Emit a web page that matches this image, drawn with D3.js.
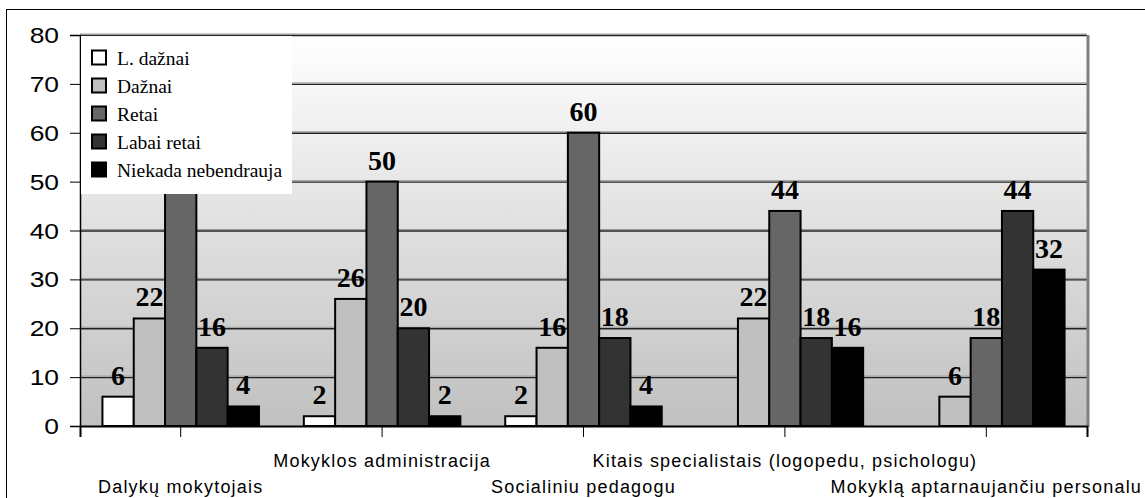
<!DOCTYPE html>
<html>
<head>
<meta charset="utf-8">
<script src="https://cdn.jsdelivr.net/npm/d3@7"></script>
<style>
  html, body { margin: 0; padding: 0; background: #ffffff; }
  svg { display: block; }
</style>
</head>
<body>
<svg id="chart" width="1145" height="498"></svg>
<script>
const categories = [
  "Dalykų mokytojais",
  "Mokyklos administracija",
  "Socialiniu pedagogu",
  "Kitais specialistais (logopedu, psichologu)",
  "Mokyklą aptarnaujančiu personalu"
];
const seriesNames = ["L. dažnai", "Dažnai", "Retai", "Labai retai", "Niekada nebendrauja"];
const seriesColors = ["#ffffff", "#c0c0c0", "#666666", "#333333", "#000000"];
const lDaznai   = [6, 2, 2, 0, 0];
const daznai    = [22, 26, 16, 22, 6];
const retai     = [52, 50, 60, 44, 18];
const labaiRetai = [16, 20, 18, 18, 44];
const niekada   = [4, 2, 4, 16, 32];
const seriesValues = [lDaznai, daznai, retai, labaiRetai, niekada];
const yTicks = [0, 10, 20, 30, 40, 50, 60, 70, 80];

const svg = d3.select("#chart");
const L = 80, R = 1087, T = 35, B = 426;
const legendBox = {x: L + 1, y: T + 1, w: 211, h: 158};

// outer frame
svg.append("rect").attr("x", 6.5).attr("y", 9.5).attr("width", 1200).attr("height", 600)
  .attr("fill", "none").attr("stroke", "#000").attr("stroke-width", 1);

const defs = svg.append("defs");
const grad = defs.append("linearGradient").attr("id", "bg").attr("x1", 0).attr("y1", 0).attr("x2", 0).attr("y2", 1);
grad.append("stop").attr("offset", "0%").attr("stop-color", "#ffffff");
grad.append("stop").attr("offset", "100%").attr("stop-color", "#c0c0c0");

const y = d3.scaleLinear().domain([0, 80]).range([B, T]);
const x0 = d3.scaleBand().domain(categories).range([L, R]).padding(0);
const x1 = d3.scaleBand().domain(seriesNames).range([0, x0.bandwidth()]).paddingInner(0).paddingOuter(0.717);

svg.append("rect").attr("x", L).attr("y", T).attr("width", R - L).attr("height", B - T).attr("fill", "url(#bg)");

// gridlines
const grid = svg.append("g");
yTicks.filter(t => t > 0).forEach(t => {
  grid.append("line").attr("x1", L).attr("x2", R).attr("y1", y(t) - 1).attr("y2", y(t) - 1)
    .attr("stroke", "#9a9a9a").attr("stroke-width", 1);
  grid.append("line").attr("x1", L).attr("x2", R).attr("y1", y(t) + 0.5).attr("y2", y(t) + 0.5)
    .attr("stroke", "#222").attr("stroke-width", 1.3);
});
// right shadow edge
svg.append("line").attr("x1", R + 1).attr("x2", R + 1).attr("y1", T).attr("y2", B + 1)
  .attr("stroke", "#808080").attr("stroke-width", 3);

// bars
const rows = [];
categories.forEach((c, ci) => seriesNames.forEach((s, si) => rows.push({c, s, si, v: seriesValues[si][ci]})));
svg.append("g").selectAll("rect").data(rows.filter(d => d.v > 0)).join("rect")
  .attr("x", d => x0(d.c) + x1(d.s))
  .attr("y", d => y(d.v))
  .attr("width", x1.bandwidth())
  .attr("height", d => y(0) - y(d.v))
  .attr("fill", d => seriesColors[d.si])
  .attr("stroke", "#000").attr("stroke-width", 2);

// value labels (the one hidden behind the legend in the reference is not drawn)
const lx = d => x0(d.c) + x1(d.s) + x1.bandwidth() / 2;
const ly = d => y(d.v) - 12;
const visible = d => d.v > 0 && !(lx(d) < legendBox.x + legendBox.w && ly(d) < legendBox.y + legendBox.h + 20);
svg.append("g").selectAll("text").data(rows.filter(visible)).join("text")
  .attr("x", lx)
  .attr("y", ly)
  .attr("text-anchor", "middle")
  .attr("font-family", "'Liberation Serif', 'Times New Roman', serif")
  .attr("font-weight", "bold").attr("font-size", 28)
  .attr("fill", "#000")
  .text(d => d.v);

// y axis
const yAxis = svg.append("g").attr("transform", `translate(${L},0)`)
  .call(d3.axisLeft(y).tickValues(yTicks).tickSize(10).tickFormat(""));
yAxis.select(".domain").attr("stroke", "#000").attr("stroke-width", 1.5);
yAxis.selectAll(".tick line").attr("stroke", "#000").attr("stroke-width", 1);
svg.append("g").selectAll("text").data(yTicks).join("text")
  .attr("transform", d => `translate(59,${y(d) + 8}) scale(1.2,1)`)
  .attr("text-anchor", "end")
  .attr("font-family", "'Liberation Sans', Arial, sans-serif")
  .attr("font-size", 22).attr("fill", "#000")
  .text(d => d);

// x axis
const xAxis = svg.append("g").attr("transform", `translate(0,${B})`)
  .call(d3.axisBottom(x0).tickSize(11).tickFormat(""));
xAxis.select(".domain").attr("stroke", "#000").attr("stroke-width", 2);
xAxis.selectAll(".tick line").attr("stroke", "#000").attr("stroke-width", 1);
svg.append("g").selectAll("text").data(categories).join("text")
  .attr("x", d => x0(d) + x0.bandwidth() / 2)
  .attr("y", (d, i) => i % 2 === 0 ? 493 : 467)
  .attr("text-anchor", "middle")
  .attr("font-family", "'Liberation Sans', Arial, sans-serif")
  .attr("font-size", 18).attr("letter-spacing", 1.2)
  .attr("fill", "#000")
  .text(d => d);

// legend
const lg = svg.append("g");
lg.append("rect").attr("x", legendBox.x).attr("y", legendBox.y).attr("width", legendBox.w).attr("height", legendBox.h).attr("fill", "#fff");
seriesNames.forEach((s, i) => {
  const cy = 57.5 + 28 * i;
  lg.append("rect").attr("x", 92).attr("y", cy - 7).attr("width", 14).attr("height", 14)
    .attr("fill", seriesColors[i]).attr("stroke", "#000").attr("stroke-width", 2);
  lg.append("text").attr("x", 117).attr("y", cy + 7)
    .attr("font-family", "'Liberation Serif', 'Times New Roman', serif")
    .attr("font-size", 19.5).attr("fill", "#000").text(s);
});
</script>
</body>
</html>
